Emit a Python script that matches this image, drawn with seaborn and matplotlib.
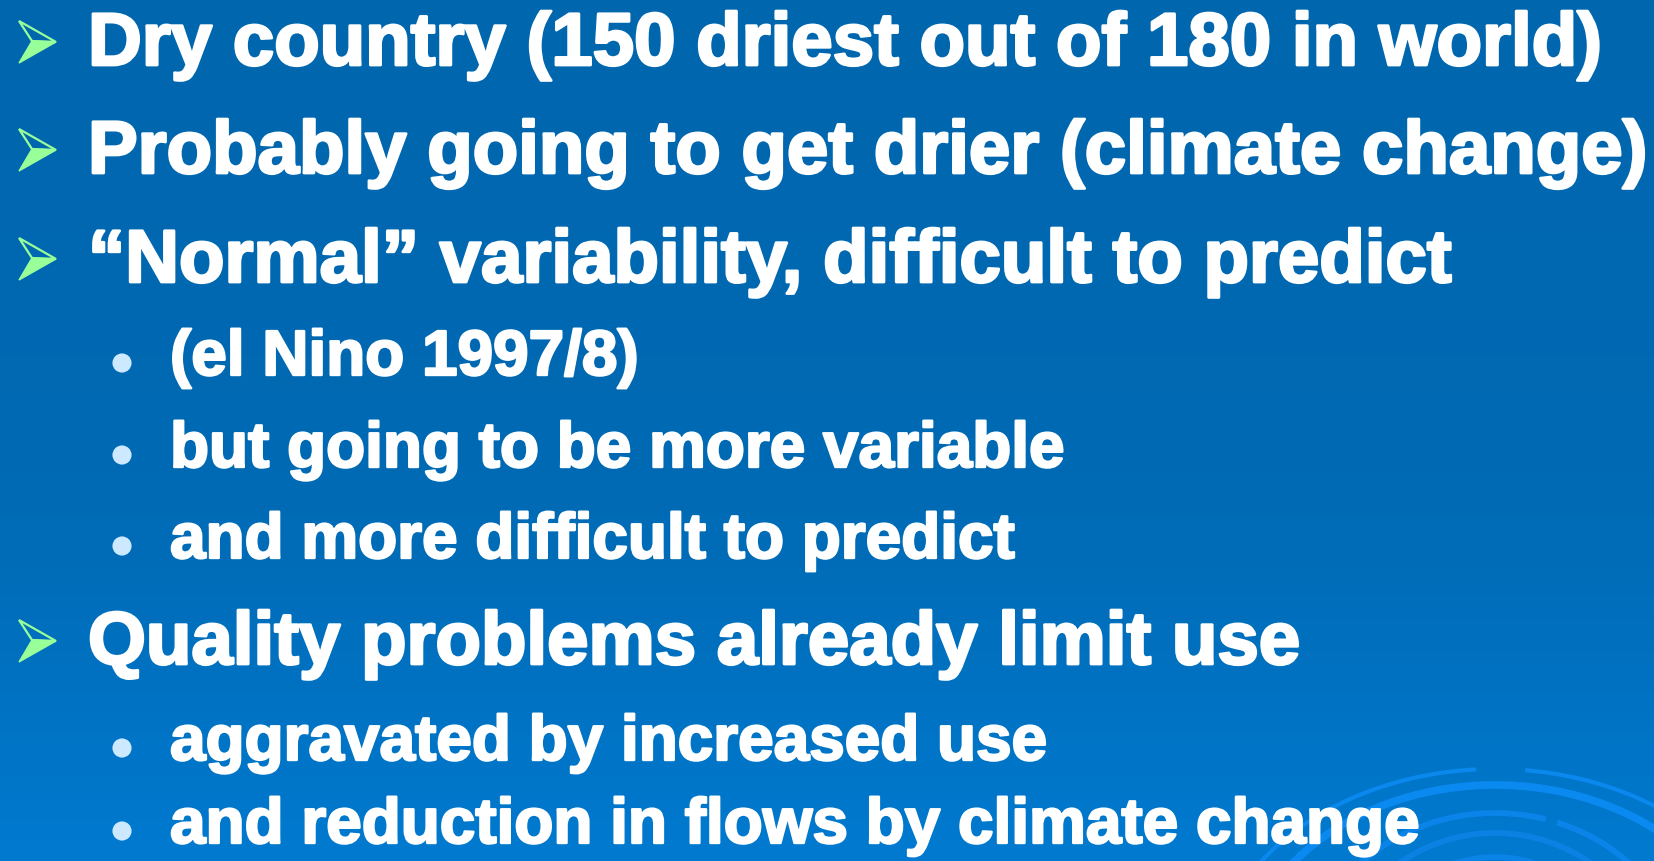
import numpy as np
import pandas as pd
import seaborn as sns
import matplotlib.pyplot as plt
import matplotlib.patheffects as pe
from matplotlib.patches import Polygon, Arc

# slide content
items = [
    "Dry country (150 driest out of 180 in world)",
    "Probably going to get drier (climate change)",
    "\u201cNormal\u201d variability, difficult to predict",
    "(el Nino 1997/8)",
    "but going to be more variable",
    "and more difficult to predict",
    "Quality problems already limit use",
    "aggravated by increased use",
    "and reduction in flows by climate change",
]
levels = [0, 0, 0, 1, 1, 1, 0, 1, 1]

# layout (pixels)
W, H = 1654, 861
baselines = [65, 173, 282, 375, 467, 558, 664, 760, 843]
text_x = {0: 88, 1: 170}
font_size = {0: 53.6, 1: 46.0}
stroke = {0: 2.0, 1: 1.7}

sns.set_style("white")
plt.rcParams['font.family'] = ['Liberation Sans', 'DejaVu Sans']

fig = plt.figure(figsize=(W / 100, H / 100), dpi=100)
ax = fig.add_axes([0, 0, 1, 1])

# background gradient, dark on top, lighter towards bottom
yy = np.linspace(0, 1, 400)
t = np.clip((yy - 0.55) / 0.45, 0, 1) ** 1.2
top = np.array([0, 102, 174]) / 255
mid = np.array([0, 106, 180]) / 255
bot = np.array([0, 122, 208]) / 255
grad = np.where(yy[:, None] < 0.55,
                top + (mid - top) * (yy[:, None] / 0.55),
                mid + (bot - mid) * t[:, None])
ax.imshow(grad[:, None, :], extent=[0, W, H, 0], aspect="auto", zorder=0)

# decorative arcs, bottom right (flattened ellipses)
cx, cy = 1495, 985
arcs = [  # half-width, half-height, lw, colour, (up-angle segments)
    (285, 216, 3.0, "#0a88ee", [(0, 82), (95, 180)]),
    (255, 200, 5.5, "#0a8af0", [(0, 180)]),
    (190, 172, 4.2, "#0a84e8", [(15, 69), (73, 160)]),
    (160, 152, 4.2, "#0a82e4", [(20, 165)]),
    (130, 128, 4.0, "#0a84e6", [(40, 150)]),
]
for a, b, lw, col, segs in arcs:
    for a1, a2 in segs:
        ax.add_patch(Arc((cx, cy), 2 * a, 2 * b, theta1=360 - a2, theta2=360 - a1,
                         color=col, lw=lw, zorder=1))

# main bullets: green arrowheads
green = "#99ff99"
for b, lv in zip(baselines, levels):
    if lv != 0:
        continue
    ax.add_patch(Polygon([(19, b - 44), (56, b - 23), (32, b - 24)], closed=True,
                         fill=False, edgecolor=green, lw=1.6, zorder=3))
    ax.add_patch(Polygon([(32, b - 24), (56, b - 23), (19, b - 2)], closed=True,
                         facecolor=green, edgecolor=green, lw=1.0, zorder=3))

# sub bullets: light blue dots
dots = pd.DataFrame({
    "x": [122 for lv in levels if lv == 1],
    "y": [b - 12 for b, lv in zip(baselines, levels) if lv == 1],
})
sns.scatterplot(data=dots, x="x", y="y", s=190, color="#cce9ff",
                edgecolor="none", ax=ax, zorder=3, legend=False)
ax.set_xlim(0, W)
ax.set_ylim(H, 0)
ax.axis("off")

for txt, b, lv in zip(items, baselines, levels):
    ax.text(text_x[lv], b, txt, fontsize=font_size[lv], fontweight="bold",
            color="white", va="baseline", ha="left", zorder=4,
            path_effects=[pe.withStroke(linewidth=stroke[lv], foreground="white")])

fig.savefig("out.png", dpi=100)
